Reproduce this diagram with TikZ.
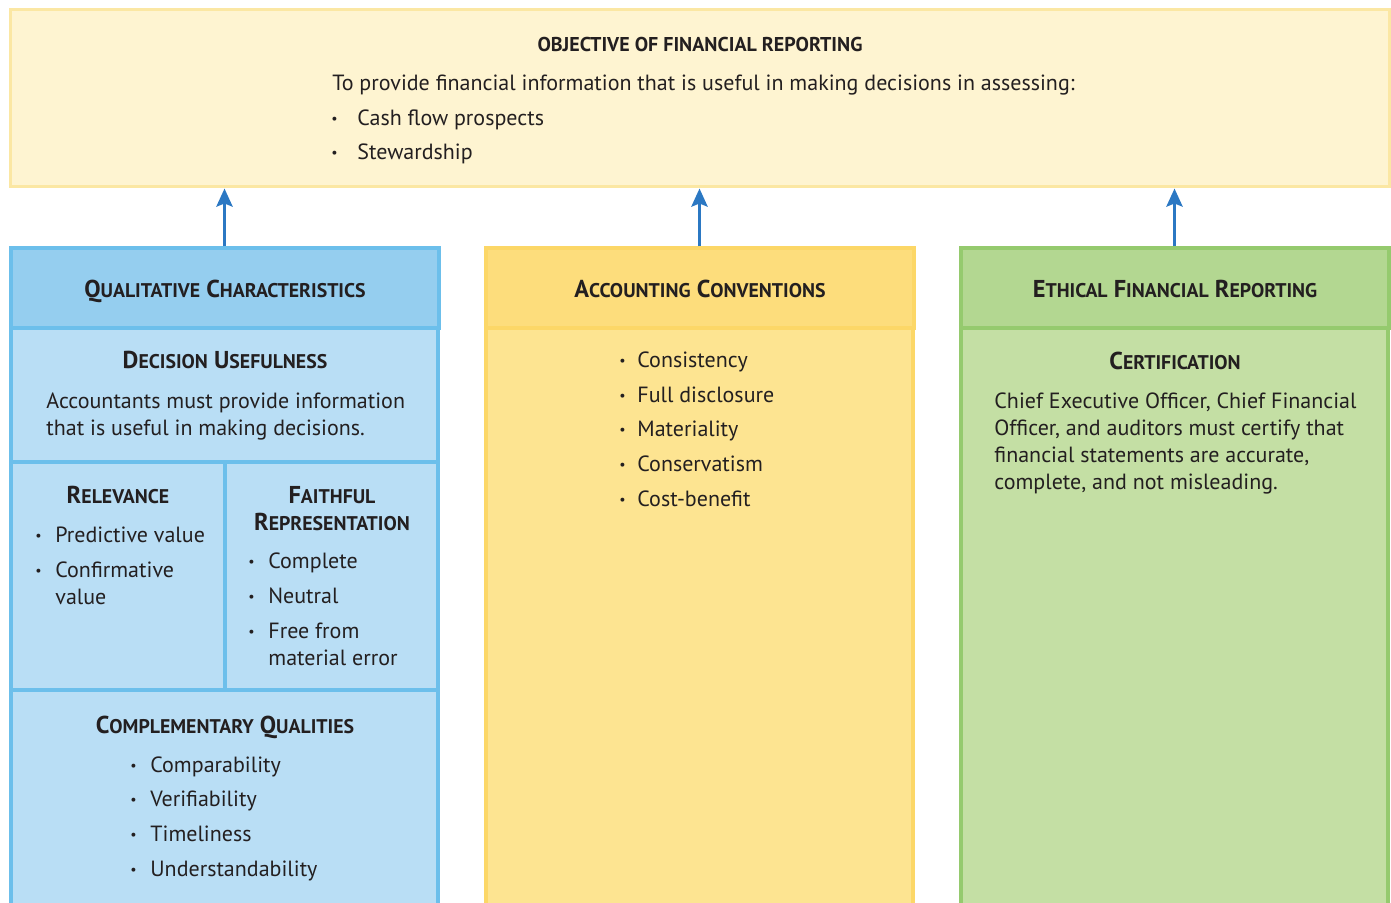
\documentclass[tikz,border=0pt]{standalone}
\usepackage{fontspec}
\setmainfont{PT Sans}
\usetikzlibrary{positioning,arrows.meta}

\definecolor{ink}{HTML}{231F20}
\definecolor{objfill}{HTML}{FEF4D1}
\definecolor{objline}{HTML}{FBE7A3}
\definecolor{bluehead}{HTML}{95CEEF}
\definecolor{bluebody}{HTML}{B9DEF5}
\definecolor{blueline}{HTML}{6CBFEB}
\definecolor{yellowhead}{HTML}{FDDD7C}
\definecolor{yellowbody}{HTML}{FDE491}
\definecolor{yellowline}{HTML}{FCD767}
\definecolor{greenhead}{HTML}{B3D791}
\definecolor{greenbody}{HTML}{C4DFA4}
\definecolor{greenline}{HTML}{95CA6E}
\definecolor{arrowblue}{HTML}{2B78C3}

\newcommand\smcap[1]{{\fontsize{9.9}{10}\selectfont #1}}
\newcommand\bitem[2][10pt]{\makebox[#1][l]{\raisebox{1pt}{\fontsize{7}{7}\selectfont\textbullet}}#2}
\newcommand\bcont[1]{\hspace*{10pt}#1}

\tikzset{
  every node/.style={inner sep=0pt, text=ink, font=\fontsize{11}{13.5}\selectfont},
  headtext/.style={anchor=base, font=\fontsize{12.2}{13.5}\selectfont\bfseries},
  bodytext/.style={anchor=base west, align=left},
  headbox/.style={draw=#1line, fill=#1head, line width=2pt,
    minimum width=214pt, minimum height=40pt},
  upconn/.style={draw=arrowblue, line width=1.8pt,
    -{Stealth[length=9pt,width=8pt,inset=1.5pt]}},
}

\begin{document}
\begin{tikzpicture}[x=0.5pt,y=-0.5pt]
\useasboundingbox (0,0) rectangle (1391,903);
\clip (0,0) rectangle (1391,903);

% objective
\node [draw=objline, fill=objfill, line width=1.5pt,
  minimum width=689.5pt, minimum height=88.5pt] (objbox) at (699.5,98.5) {};
\node [headtext, font=\fontsize{10}{10}\selectfont\bfseries] (objtitle) at (700,52)
  {OBJECTIVE OF FINANCIAL REPORTING};
\node [bodytext] (objtext) at (332,91)
  {To provide financial information that is useful in making decisions in assessing:};
\node [bodytext] (objlist) at (331,160)
  {\bitem[13pt]{Cash flow prospects}\\[3.8pt]\bitem[13pt]{Stewardship}};

% qualitative characteristics
\draw [blueline, line width=2pt, fill=bluebody] (11,249) rectangle (438,950);
\node [headbox=blue] (qualhead) at (224.5,288.5) {};
\draw [blueline, line width=2pt] (11,462) -- (438,462);
\draw [blueline, line width=2pt] (11,690) -- (438,690);
\draw [blueline, line width=2pt] (225,462) -- (225,690);
\node [headtext] (qualtitle) at (225,298)
  {Q\smcap{UALITATIVE} C\smcap{HARACTERISTICS}};
\node [headtext] (dectitle) at (225,369) {D\smcap{ECISION} U\smcap{SEFULNESS}};
\node [bodytext] (dectext) at (46,436)
  {Accountants must provide information\\that is useful in making decisions.};
\node [headtext] (reltitle) at (118,503) {R\smcap{ELEVANCE}};
\node [bodytext] (rellist) at (35,604)
  {\bitem{Predictive value}\\[3.8pt]\bitem{Confirmative}\\\bcont{value}};
\node [headtext, align=center] (faithtitle) at (332,530)
  {F\smcap{AITHFUL}\\R\smcap{EPRESENTATION}};
\node [bodytext] (faithlist) at (248,665)
  {\bitem{Complete}\\[3.8pt]\bitem{Neutral}\\[3.8pt]\bitem{Free from}\\\bcont{material error}};
\node [headtext] (comptitle) at (225,733)
  {C\smcap{OMPLEMENTARY} Q\smcap{UALITIES}};
\node [bodytext] (complist) at (130,876)
  {\bitem{Comparability}\\[3.8pt]\bitem{Verifiability}\\[3.8pt]\bitem{Timeliness}\\[3.8pt]\bitem{Understandability}};

% accounting conventions
\draw [yellowline, line width=2pt, fill=yellowbody] (486,249) rectangle (913,950);
\node [headbox=yellow] (convhead) at (699.5,288.5) {};
\node [headtext] (convtitle) at (700,298)
  {A\smcap{CCOUNTING} C\smcap{ONVENTIONS}};
\node [bodytext] (convlist) at (619,506)
  {\bitem[9pt]{Consistency}\\[3.8pt]\bitem[9pt]{Full disclosure}\\[3.8pt]\bitem[9pt]{Materiality}\\[3.8pt]\bitem[9pt]{Conservatism}\\[3.8pt]\bitem[9pt]{Cost-benefit}};

% ethical financial reporting
\draw [greenline, line width=2pt, fill=greenbody] (961,249) rectangle (1388,950);
\node [headbox=green] (ethhead) at (1174.5,288.5) {};
\node [headtext] (ethtitle) at (1175,298)
  {E\smcap{THICAL} F\smcap{INANCIAL} R\smcap{EPORTING}};
\node [headtext] (certtitle) at (1175,370) {C\smcap{ERTIFICATION}};
\node [bodytext] (certtext) at (994,489)
  {Chief Executive Officer, Chief Financial\\Officer, and auditors must certify that\\financial statements are accurate,\\complete, and not misleading.};

% arrows up
\draw [upconn] (qualhead.north) -- (qualhead.north |- objbox.south);
\draw [upconn] (convhead.north) -- (convhead.north |- objbox.south);
\draw [upconn] (ethhead.north) -- (ethhead.north |- objbox.south);
\end{tikzpicture}
\end{document}
